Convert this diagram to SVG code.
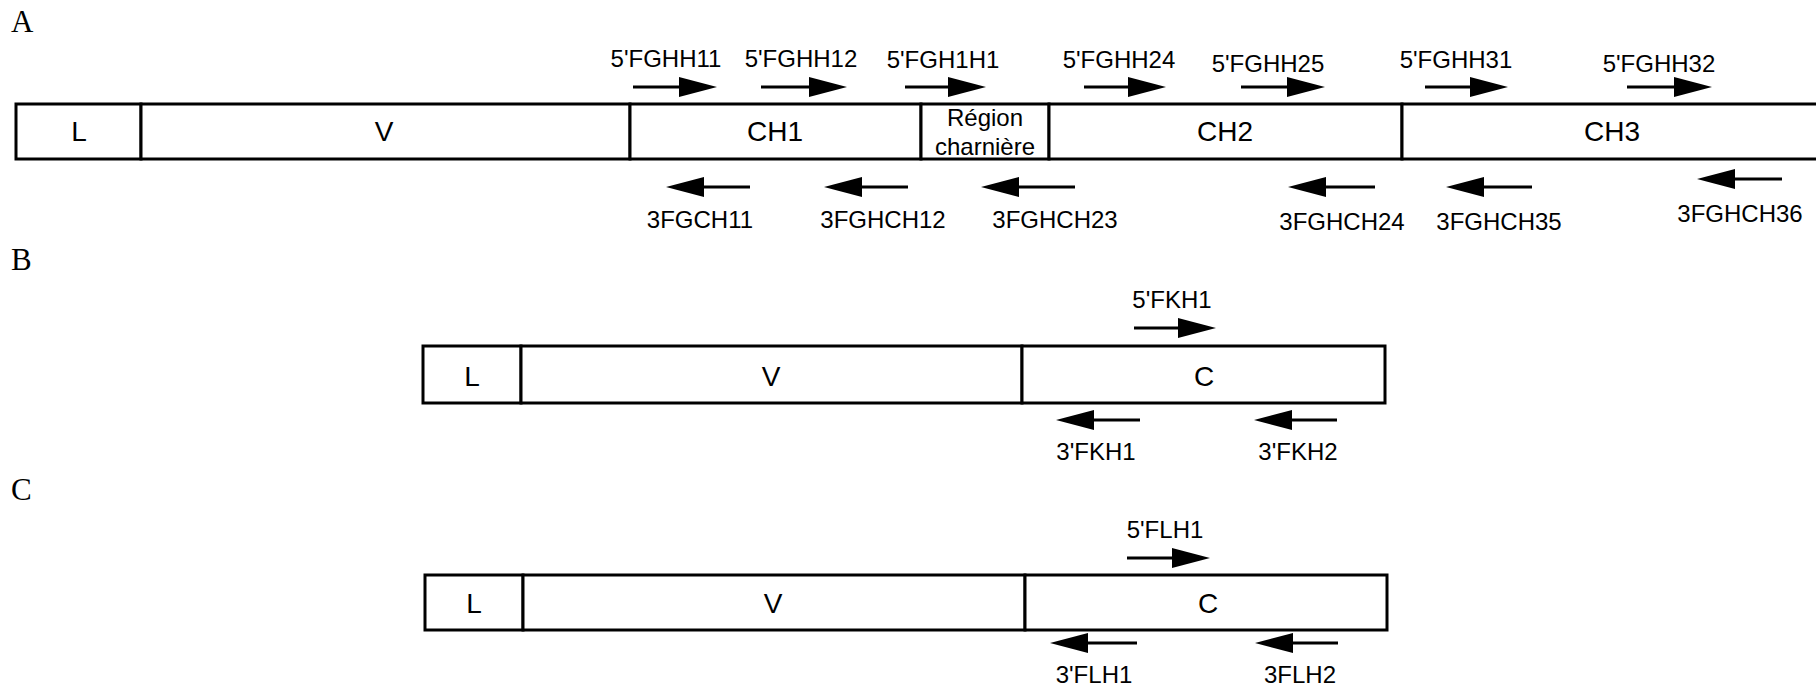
<svg xmlns="http://www.w3.org/2000/svg" width="1816" height="687" viewBox="0 0 1816 687">
<defs>
<marker id="ah" markerUnits="userSpaceOnUse" markerWidth="40" markerHeight="22" refX="10" refY="10" orient="auto" viewBox="0 0 40 22">
<path d="M0,0 L38,10 L0,20 z" fill="#000"/>
</marker>
</defs>
<style>
.seg{fill:#fff;stroke:#000;stroke-width:3}
.lbl{font-family:"Liberation Sans",Arial,sans-serif;font-size:28px;text-anchor:middle;fill:#000}
.sm{font-family:"Liberation Sans",Arial,sans-serif;font-size:24px;text-anchor:middle;fill:#000}
.pr{font-family:"Liberation Sans",Arial,sans-serif;font-size:24px;text-anchor:middle;fill:#000}
.pan{font-family:"Liberation Serif","Times New Roman",serif;font-size:31px;fill:#000}
.arr{stroke:#000;stroke-width:3;fill:none;marker-end:url(#ah)}
</style>
<rect width="1816" height="687" fill="#fff"/>
<text class="pan" x="11" y="32">A</text>
<text class="pan" x="11" y="270">B</text>
<text class="pan" x="11" y="500">C</text>

<!-- Panel A -->
<g id="A-L"><rect class="seg" x="16" y="104" width="125" height="55"/><text class="lbl" x="79" y="141">L</text></g>
<g id="A-V"><rect class="seg" x="141" y="104" width="489" height="55"/><text class="lbl" x="384" y="141">V</text></g>
<g id="A-CH1"><rect class="seg" x="630" y="104" width="291" height="55"/><text class="lbl" x="775" y="141">CH1</text></g>
<g id="A-hinge"><rect class="seg" x="921" y="104" width="128" height="55"/><text class="sm" x="985" y="126">Région</text><text class="sm" x="985" y="155">charnière</text></g>
<g id="A-CH2"><rect class="seg" x="1049" y="104" width="353" height="55"/><text class="lbl" x="1225" y="141">CH2</text></g>
<g id="A-CH3"><rect class="seg" x="1402" y="104" width="440" height="55"/><text class="lbl" x="1612" y="141">CH3</text></g>

<g id="A-primers">
<text class="pr" x="666" y="67">5'FGHH11</text>
<text class="pr" x="801" y="67">5'FGHH12</text>
<text class="pr" x="943" y="68">5'FGH1H1</text>
<text class="pr" x="1119" y="68">5'FGHH24</text>
<text class="pr" x="1268" y="72">5'FGHH25</text>
<text class="pr" x="1456" y="68">5'FGHH31</text>
<text class="pr" x="1659" y="72">5'FGHH32</text>
<text class="pr" x="700" y="228">3FGCH11</text>
<text class="pr" x="883" y="228">3FGHCH12</text>
<text class="pr" x="1055" y="228">3FGHCH23</text>
<text class="pr" x="1342" y="230">3FGHCH24</text>
<text class="pr" x="1499" y="230">3FGHCH35</text>
<text class="pr" x="1740" y="222">3FGHCH36</text>
</g>

<!-- Panel B -->
<g id="B-L"><rect class="seg" x="423" y="346" width="98" height="57"/><text class="lbl" x="472" y="386">L</text></g>
<g id="B-V"><rect class="seg" x="521" y="346" width="501" height="57"/><text class="lbl" x="771" y="386">V</text></g>
<g id="B-C"><rect class="seg" x="1022" y="346" width="363" height="57"/><text class="lbl" x="1204" y="386">C</text></g>
<g id="B-primers">
<text class="pr" x="1172" y="308">5'FKH1</text>
<text class="pr" x="1096" y="460">3'FKH1</text>
<text class="pr" x="1298" y="460">3'FKH2</text>
</g>

<!-- Panel C -->
<g id="C-L"><rect class="seg" x="425" y="575" width="98" height="55"/><text class="lbl" x="474" y="613">L</text></g>
<g id="C-V"><rect class="seg" x="523" y="575" width="502" height="55"/><text class="lbl" x="773" y="613">V</text></g>
<g id="C-C"><rect class="seg" x="1025" y="575" width="362" height="55"/><text class="lbl" x="1208" y="613">C</text></g>
<g id="C-primers">
<text class="pr" x="1165" y="538">5'FLH1</text>
<text class="pr" x="1094" y="683">3'FLH1</text>
<text class="pr" x="1300" y="683">3FLH2</text>
</g>

<g id="connectors">
<line class="arr" x1="633" y1="87" x2="689" y2="87"/>
<line class="arr" x1="761" y1="87" x2="819" y2="87"/>
<line class="arr" x1="905" y1="87" x2="958" y2="87"/>
<line class="arr" x1="1084" y1="87" x2="1138" y2="87"/>
<line class="arr" x1="1241" y1="87" x2="1297" y2="87"/>
<line class="arr" x1="1425" y1="87" x2="1480" y2="87"/>
<line class="arr" x1="1627" y1="87" x2="1684" y2="87"/>
<line class="arr" x1="750" y1="187" x2="694" y2="187"/>
<line class="arr" x1="908" y1="187" x2="852" y2="187"/>
<line class="arr" x1="1075" y1="187" x2="1009" y2="187"/>
<line class="arr" x1="1375" y1="187" x2="1316" y2="187"/>
<line class="arr" x1="1532" y1="187" x2="1474" y2="187"/>
<line class="arr" x1="1782" y1="179" x2="1725" y2="179"/>
<line class="arr" x1="1134" y1="328" x2="1188" y2="328"/>
<line class="arr" x1="1140" y1="420" x2="1084" y2="420"/>
<line class="arr" x1="1337" y1="420" x2="1282" y2="420"/>
<line class="arr" x1="1127" y1="558" x2="1182" y2="558"/>
<line class="arr" x1="1137" y1="643" x2="1078" y2="643"/>
<line class="arr" x1="1338" y1="643" x2="1283" y2="643"/>
</g>
</svg>
